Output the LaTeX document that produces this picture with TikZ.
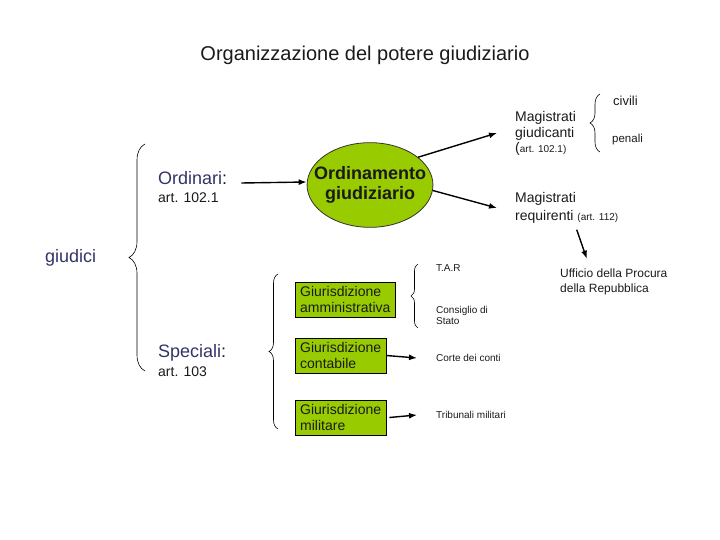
\documentclass[tikz,border=0pt]{standalone}
\usepackage{fontspec}
\setmainfont{Liberation Sans}
\usetikzlibrary{arrows.meta,positioning,decorations.pathreplacing,shapes.geometric}
\definecolor{leaf}{HTML}{99CC00}
\definecolor{navy}{HTML}{333366}
\definecolor{ink}{HTML}{1A1A1A}
\tikzset{
  >=Latex,
  every node/.style={text=ink,inner sep=0pt},
  txt/.style={anchor=west,align=left,font=\fontsize{14}{16}\selectfont},
  tiny/.style={anchor=west,align=left,font=\fontsize{10}{11}\selectfont},
  cat/.style={anchor=west,font=\fontsize{18}{20}\selectfont,text=navy},
  giubox/.style={draw=black,fill=leaf,anchor=west,align=left,minimum height=35pt,inner xsep=5pt,font=\fontsize{14}{16}\selectfont},
  ordbox/.style={ellipse,draw=black!80,line width=0.8pt,fill=leaf,inner xsep=-11.5pt,inner ysep=11.5pt,align=center,font=\bfseries\fontsize{18}{20}\selectfont},
  arrow/.style={-{Latex[length=8pt,width=6pt]},line width=1.4pt,draw=black},
  brace/.style={decorate,decoration={brace,amplitude=#1},line width=0.6pt,draw=black},
}

\begin{document}
\begin{tikzpicture}[x=1pt,y=-1pt]
  \useasboundingbox (0,0) rectangle (720,540);
  \node[font=\fontsize{20}{22}\selectfont] (title) at (365,55) {Organizzazione del potere giudiziario};

  % ordinari
  \node[cat] (ordinari) at (158,178) {Ordinari\textcolor{ink}{:}};
  \node[txt] (ordart) at (158,198) {art. 102.1};
  \node[ordbox] (ordin) at (370,185) {Ordinamento\\giudiziario};
  \draw[arrow] ([xshift=14pt,yshift=-5pt]ordinari.east) -- ([yshift=3pt]ordin.west);

  \node[txt] (giudic) at (515,133) {Magistrati\\giudicanti\\[-1pt](\fontsize{10}{11}\selectfont art. 102.1)};
  \node[txt,font=\fontsize{13}{15}\selectfont] (civili) at (613,101) {civili};
  \node[txt,font=\fontsize{11.5}{13}\selectfont] (penali) at (612,140) {penali};
  \draw[brace=10] (600,152) -- (600,94);

  \node[txt,font=\fontsize{14}{18}\selectfont] (requir) at (515,208) {Magistrati\\requirenti {\fontsize{10}{11}\selectfont(art. 112)}};
  \node[txt,font=\fontsize{12}{15}\selectfont] (uffic) at (560,282) {Ufficio della Procura\\della Repubblica};
  \draw[arrow] (ordin.30) -- ([xshift=-18pt]giudic.west);
  \draw[arrow] (ordin.-5) -- ([xshift=-18pt]requir.west);
  \draw[arrow] ([xshift=10pt,yshift=-6pt]requir.south) -- ([xshift=-27pt,yshift=10pt]uffic.north);

  % giudici
  \node[cat] (giudici) at (45,258) {giudici};
  \draw[brace=16] (145,371) -- (145,144);

  % speciali
  \node[cat] (speciali) at (158,353) {Speciali\textcolor{ink}{:}};
  \node[txt] (specart) at (158,372) {art. 103};
  \draw[brace=9] (278,429) -- (278,274);

  \node[giubox] (ammin) at (295,299.5) {Giurisdizione\\amministrativa};
  \node[giubox] (contab) at (295,355.5) {Giurisdizione\\contabile};
  \node[giubox] (milit) at (295,417.5) {Giurisdizione\\militare};

  \draw[brace=7] (418,328) -- (418,264);
  \node[tiny] (tar) at (436,268) {T.A.R};
  \node[tiny] (consiglio) at (436,315) {Consiglio di\\Stato};
  \node[tiny] (corte) at (436,358) {Corte dei conti};
  \node[tiny] (tribun) at (436,415) {Tribunali militari};
  \draw[arrow] (contab.east) -- ([xshift=-19pt]corte.west);
  \draw[arrow] ([xshift=3pt]milit.east) -- ([xshift=-19pt]tribun.west);
\end{tikzpicture}
\end{document}
